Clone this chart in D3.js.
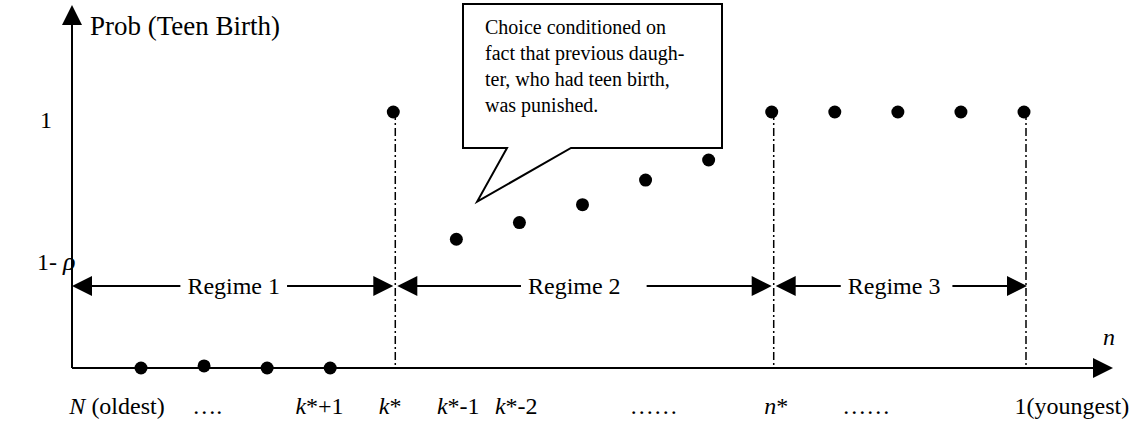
<!DOCTYPE html>
<meta charset="utf-8">
<script src="https://d3js.org/d3.v7.min.js"></script>
<style>
  body { margin: 0; background: #fff; }
</style>
<div id="chart"></div>
<script>

// data: sibling slot index (0 = oldest shown) and probability of teen birth
var slotIdx   = [0, 1, 2, 3, 4, 5, 6, 7, 8, 9, 10, 11, 12, 13, 14];
var probVals  = [0, 0.008, 0, 0, 1, 0.503, 0.568, 0.638, 0.734, 0.8125, 1, 1, 1, 1, 1];

// regime boundaries (slot index), dashed lines drawn at these
var cutIdx = [4, 10, 14];
var regimeNames = ["Regime 1", "Regime 2", "Regime 3"];
var regimeLabelIdx = [1.47, 6.87, 11.94];

// x tick labels: italic prefix + rest
var tickIdx = [-0.38, 1.05, 2.83, 3.95, 5.03, 5.95, 8.13, 10.07, 11.5, 14.76];
var tickItalic = ["N", "", "k", "k", "k", "k", "", "n", "", ""];
var tickRest = [" (oldest)", "….", "*+1", "*", "*-1", "*-2", "……", "*", "……", "1(youngest)"];

var calloutLines = ["Choice conditioned on", "fact that previous daugh-", "ter, who had teen birth,", "was punished."];

var width = 1135, height = 423;
var serif = "'Liberation Serif'";

var svg = d3.select("#chart").append("svg")
    .attr("width", width)
    .attr("height", height);

var x = d3.scaleLinear().domain([0, 14]).range([141, 1024]);
var y = d3.scaleLinear().domain([0, 1]).range([368, 112]);

var x0 = 72, y0 = y(0);

function label(tx, ty, size) {
  return svg.append("text").attr("x", tx).attr("y", ty)
    .style("font-family", serif).style("font-size", size + "px").attr("fill", "#000");
}

// arrow head helper
function head(tx, ty, dir) {
  var L = 20, W = 10, p;
  if (dir == "up") p = [[tx, ty], [tx - W, ty + L], [tx + W, ty + L]];
  else if (dir == "right") p = [[tx, ty], [tx - L, ty - W], [tx - L, ty + W]];
  else p = [[tx, ty], [tx + L, ty - W], [tx + L, ty + W]];
  svg.append("path").attr("d", d3.line()(p) + "Z").attr("fill", "#000");
}

// axes
svg.append("line").attr("x1", x0).attr("y1", y0).attr("x2", x0).attr("y2", 20)
  .attr("stroke", "#000").attr("stroke-width", 2);
head(x0, 5, "up");
svg.append("line").attr("x1", x0).attr("y1", y0).attr("x2", 1097).attr("y2", y0)
  .attr("stroke", "#000").attr("stroke-width", 2);
head(1113, y0, "right");

label(90, 35, 27).text("Prob (Teen Birth)");
label(1103, 345, 24).style("font-style", "italic").text("n");

// y labels
label(40, y(1) + 16, 24).text("1");
var rho = label(37, y(0.41) + 7, 24);
rho.append("tspan").text("1- ");
rho.append("tspan").style("font-style", "italic").style("font-size", "26px").text("ρ");

// dashed boundary lines
svg.selectAll(".cut").data(cutIdx).enter().append("line")
  .attr("x1", function(d) { return x(d) + 2; })
  .attr("x2", function(d) { return x(d) + 2; })
  .attr("y1", y(1))
  .attr("y2", y0)
  .attr("stroke", "#000")
  .attr("stroke-width", 1.5)
  .attr("stroke-dasharray", "8,3,2,3");

// regime arrows
var ay = y(0.32);
var gapRight = [7, 26, 12];
var bounds = [[null, cutIdx[0]], [cutIdx[0], cutIdx[1]], [cutIdx[1], cutIdx[2]]];
bounds.forEach(function(b, i) {
  var xa = b[0] == null ? x0 : x(b[0]) + 4;
  var xb = x(b[1]) + (i == 2 ? 3 : 0);
  svg.append("line").attr("x1", xa + 10).attr("x2", xb - 10).attr("y1", ay).attr("y2", ay)
    .attr("stroke", "#000").attr("stroke-width", 2);
  head(xa, ay, "left");
  head(xb, ay, "right");
  var t = label(x(regimeLabelIdx[i]), ay + 8, 24)
    .attr("text-anchor", "middle").text(regimeNames[i]);
  var bb = t.node().getBBox();
  svg.insert("rect", function() { return t.node(); })
    .attr("x", bb.x - 7).attr("y", bb.y).attr("width", bb.width + 7 + gapRight[i]).attr("height", bb.height)
    .attr("fill", "#fff");
});

// dots
svg.selectAll(".dot").data(slotIdx).enter().append("circle")
  .attr("cx", function(d) { return x(d); })
  .attr("cy", function(d, i) { return y(probVals[i]); })
  .attr("r", 6.5)
  .attr("fill", "#000");

// x tick labels
tickIdx.forEach(function(d, i) {
  var t = label(x(d), 414, 24).attr("text-anchor", "middle");
  if (tickItalic[i]) t.append("tspan").style("font-style", "italic").text(tickItalic[i]);
  t.append("tspan").text(tickRest[i]);
});

// callout box with pointer
var bx0 = 463, bx1 = 722, by0 = 4, by1 = 148;
var tip = [x(5.33), y(0.65)];
svg.append("path")
  .attr("d", "M" + bx0 + "," + by0 + "H" + bx1 + "V" + by1 + "H571L" + tip[0] + "," + tip[1] +
             "L507," + by1 + "H" + bx0 + "Z")
  .attr("fill", "#fff")
  .attr("stroke", "#000")
  .attr("stroke-width", 2);
calloutLines.forEach(function(d, i) {
  label(485, 34 + i * 26, 20).text(d);
});

</script>
